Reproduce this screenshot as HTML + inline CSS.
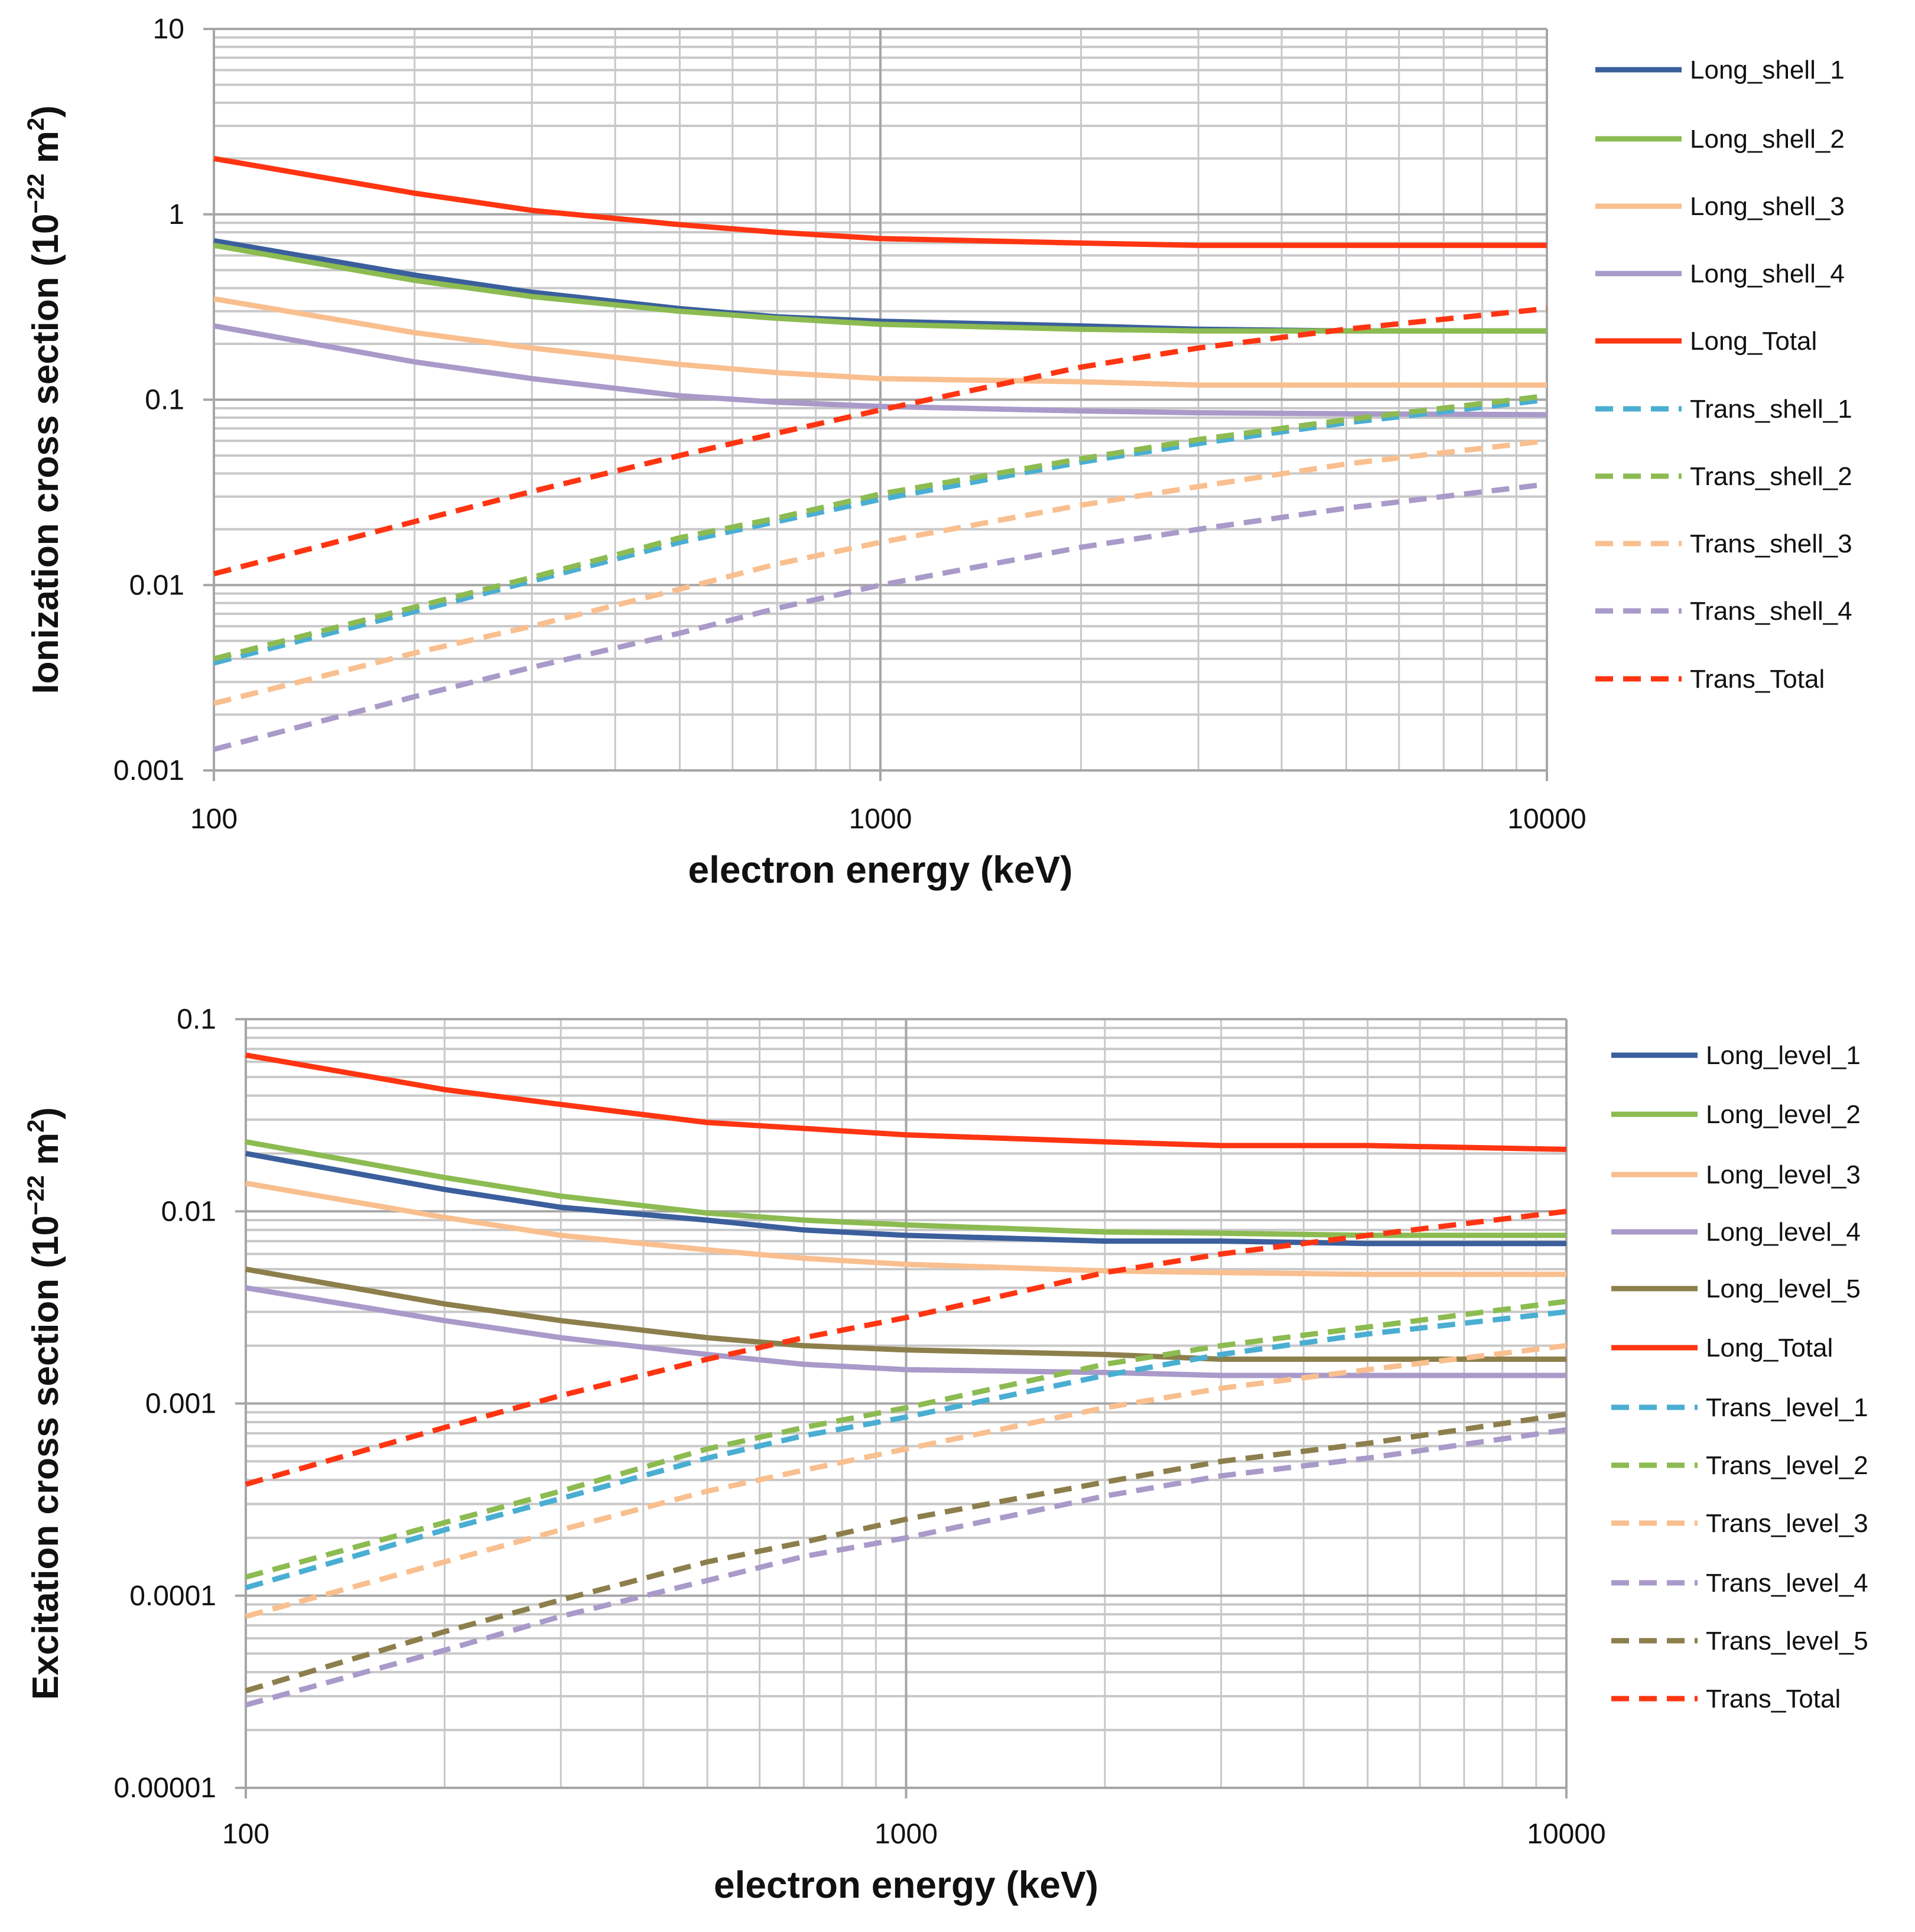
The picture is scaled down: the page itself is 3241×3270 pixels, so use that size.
<!DOCTYPE html>
<html><head><meta charset="utf-8"><style>
html,body{margin:0;padding:0;background:#fff;}
svg{display:block;font-family:"Liberation Sans",sans-serif;}
</style></head><body>
<svg id="fig" width="3241" height="3270" viewBox="0 0 3241 3270" xmlns="http://www.w3.org/2000/svg"></svg>
<script>
// ---- Data: ionization chart ----
const ionX = [100,200,300,500,700,1000,2000,3000,5000,10000];
const ionLongTotal = [2.0,1.3,1.05,0.88,0.80,0.74,0.70,0.68,0.68,0.68];
const ionLongShell1 = [0.72,0.47,0.38,0.31,0.28,0.265,0.25,0.24,0.235,0.235];
const ionLongShell2 = [0.68,0.44,0.36,0.30,0.275,0.255,0.24,0.235,0.235,0.235];
const ionLongShell3 = [0.35,0.23,0.19,0.155,0.14,0.13,0.125,0.12,0.12,0.12];
const ionLongShell4 = [0.25,0.16,0.13,0.105,0.097,0.092,0.087,0.085,0.084,0.083];
const ionTransTotal = [0.0115,0.022,0.032,0.05,0.066,0.088,0.15,0.19,0.24,0.31];
const ionTransShell1 = [0.0038,0.0072,0.0105,0.017,0.022,0.029,0.046,0.058,0.075,0.10];
const ionTransShell2 = [0.004,0.0076,0.011,0.018,0.023,0.031,0.048,0.061,0.078,0.105];
const ionTransShell3 = [0.0023,0.0043,0.006,0.0095,0.013,0.017,0.027,0.034,0.045,0.06];
const ionTransShell4 = [0.0013,0.0025,0.0036,0.0055,0.0075,0.01,0.016,0.020,0.026,0.035];
const ionYTicks = ["0.001","0.01","0.1","1","10"];
const xTicks = ["100","1000","10000"];
// ---- Data: excitation chart ----
const excX = [100,200,300,500,700,1000,2000,3000,5000,10000];
const excLongTotal = [0.065,0.043,0.036,0.029,0.027,0.025,0.023,0.022,0.022,0.021];
const excLongLevel1 = [0.020,0.013,0.0105,0.009,0.008,0.0075,0.007,0.007,0.0068,0.0068];
const excLongLevel2 = [0.023,0.015,0.012,0.0098,0.009,0.0085,0.0078,0.0077,0.0075,0.0075];
const excLongLevel3 = [0.014,0.0093,0.0075,0.0063,0.0057,0.0053,0.0049,0.0048,0.0047,0.0047];
const excLongLevel4 = [0.004,0.0027,0.0022,0.0018,0.0016,0.0015,0.00145,0.0014,0.0014,0.0014];
const excLongLevel5 = [0.005,0.0033,0.0027,0.0022,0.002,0.0019,0.0018,0.0017,0.0017,0.0017];
const excTransTotal = [0.00038,0.00075,0.0011,0.0017,0.0022,0.0028,0.0048,0.006,0.0075,0.010];
const excTransLevel1 = [0.00011,0.00022,0.00032,0.00052,0.00068,0.00085,0.0014,0.0018,0.0023,0.003];
const excTransLevel2 = [0.000125,0.00024,0.00035,0.00058,0.00075,0.00095,0.0016,0.002,0.0025,0.0034];
const excTransLevel3 = [0.000078,0.00015,0.00022,0.00035,0.00045,0.00058,0.00095,0.0012,0.0015,0.002];
const excTransLevel4 = [0.000027,0.000052,0.000078,0.00012,0.00016,0.0002,0.00033,0.00042,0.00052,0.00073];
const excTransLevel5 = [0.000032,0.000065,0.000095,0.00015,0.00019,0.00025,0.00039,0.0005,0.00062,0.00088];
const excYTicks = ["0.00001","0.0001","0.001","0.01","0.1"];

const NS="http://www.w3.org/2000/svg";
const svg=document.getElementById('fig');
function el(tag,attrs,parent){const e=document.createElementNS(NS,tag);for(const k in attrs)e.setAttribute(k,attrs[k]);(parent||svg).appendChild(e);return e;}

const C={blue:"#3b5f9c",green:"#8cbb51",peach:"#f9bf8f",lav:"#a99ac9",red:"#ff3512",cyan:"#4aaed2",olive:"#8c7f4c"};

function chart(cfg){
  const g=el('g',{});
  
  
  const {L,R,T,B,ymin,ymax}=cfg;
  const xs=v=>L+(Math.log10(v)-2)/2*(R-L);
  const ys=v=>B-(Math.log10(v)-ymin)/(ymax-ymin)*(B-T);
  const grid=el('g',{},g);
  
  
  for(let d=ymin;d<ymax;d++){for(let m=2;m<=9;m++){const y=ys(m*Math.pow(10,d));el('line',{x1:L,x2:R,y1:y,y2:y,stroke:'#c8c8c8','stroke-width':4},grid);}}
  for(let d=2;d<4;d++){for(let m=2;m<=9;m++){const x=xs(m*Math.pow(10,d));el('line',{x1:x,x2:x,y1:T,y2:B,stroke:'#c8c8c8','stroke-width':3},grid);}}
  for(let d=ymin;d<=ymax;d++){const y=ys(Math.pow(10,d));el('line',{x1:L-18,x2:R,y1:y,y2:y,stroke:'#a6a6a6','stroke-width':4},grid);}
  for(let d=2;d<=4;d++){const x=xs(Math.pow(10,d));el('line',{x1:x,x2:x,y1:T,y2:B+18,stroke:'#a6a6a6','stroke-width':4},grid);}
  cfg.yTicks.forEach((t,i)=>{const tx=el('text',{x:L-50,y:ys(Math.pow(10,ymin+i))+16,'text-anchor':'end','font-size':48,fill:'#111'},g);tx.textContent=t;
    
    });
  xTicks.forEach((t,i)=>{const tx=el('text',{x:xs(Math.pow(10,2+i)),y:cfg.xTickY,'text-anchor':'middle','font-size':48,fill:'#111'},g);tx.textContent=t;
    
    });
  const xt=el('text',{x:(L+R)/2,y:cfg.xTitleY,'text-anchor':'middle','font-size':64,'font-weight':'bold',fill:'#111'},g);
  xt.textContent='electron energy (keV)';
  
  
  const yt=el('text',{x:0,y:0,transform:`translate(98 ${(T+B)/2}) rotate(-90)`,'text-anchor':'middle','font-size':62,'font-weight':'bold',fill:'#111'},g);
  yt.innerHTML=cfg.yTitle+' (10<tspan dy="-24" font-size="40">−22</tspan><tspan dy="24"> m</tspan><tspan dy="-24" font-size="40">2</tspan><tspan dy="24">)</tspan>';
  
  
  cfg.series.forEach((s,i)=>{
    const pts=cfg.x.map((xv,j)=>xs(xv).toFixed(1)+','+ys(s.v[j]).toFixed(1)).join(' ');
    const p=el('polyline',{points:pts,fill:'none',stroke:s.c,'stroke-width':9,'stroke-linejoin':'round'},g);
    if(s.dash)p.setAttribute('stroke-dasharray','30 17');
    
    
    const ly=cfg.legY[i];
    const le=el('g',{},g);
    
    
    const ll=el('line',{x1:cfg.legX,x2:cfg.legX+146,y1:ly,y2:ly,stroke:s.c,'stroke-width':9},le);
    if(s.dash)ll.setAttribute('stroke-dasharray','30 17');
    const lt=el('text',{x:cfg.legX+160,y:ly+15,'font-size':44,fill:'#111'},le);lt.textContent=s.n;
  });
}

chart({name:'ionization-chart',L:362,R:2618,T:49,B:1304,ymin:-3,ymax:1,x:ionX,yTicks:ionYTicks,xTickY:1402,xTitleY:1494,yTitle:'Ionization cross section',
  legX:2700,legY:[118,235,349,463,577,692,806,920,1034,1149],
  series:[{n:'Long_shell_1',v:ionLongShell1,c:C.blue},{n:'Long_shell_2',v:ionLongShell2,c:C.green},{n:'Long_shell_3',v:ionLongShell3,c:C.peach},{n:'Long_shell_4',v:ionLongShell4,c:C.lav},{n:'Long_Total',v:ionLongTotal,c:C.red},
  {n:'Trans_shell_1',v:ionTransShell1,c:C.cyan,dash:1},{n:'Trans_shell_2',v:ionTransShell2,c:C.green,dash:1},{n:'Trans_shell_3',v:ionTransShell3,c:C.peach,dash:1},{n:'Trans_shell_4',v:ionTransShell4,c:C.lav,dash:1},{n:'Trans_Total',v:ionTransTotal,c:C.red,dash:1}]});

chart({name:'excitation-chart',L:416,R:2651,T:1725,B:3026,ymin:-5,ymax:-1,x:excX,yTicks:excYTicks,xTickY:3120,xTitleY:3212,yTitle:'Excitation cross section',
  legX:2727,legY:[1786,1886,1988,2085,2181,2281,2382,2480,2578,2679,2777,2875],
  series:[{n:'Long_level_1',v:excLongLevel1,c:C.blue},{n:'Long_level_2',v:excLongLevel2,c:C.green},{n:'Long_level_3',v:excLongLevel3,c:C.peach},{n:'Long_level_4',v:excLongLevel4,c:C.lav},{n:'Long_level_5',v:excLongLevel5,c:C.olive},{n:'Long_Total',v:excLongTotal,c:C.red},
  {n:'Trans_level_1',v:excTransLevel1,c:C.cyan,dash:1},{n:'Trans_level_2',v:excTransLevel2,c:C.green,dash:1},{n:'Trans_level_3',v:excTransLevel3,c:C.peach,dash:1},{n:'Trans_level_4',v:excTransLevel4,c:C.lav,dash:1},{n:'Trans_level_5',v:excTransLevel5,c:C.olive,dash:1},{n:'Trans_Total',v:excTransTotal,c:C.red,dash:1}]});
</script>
</body></html>
